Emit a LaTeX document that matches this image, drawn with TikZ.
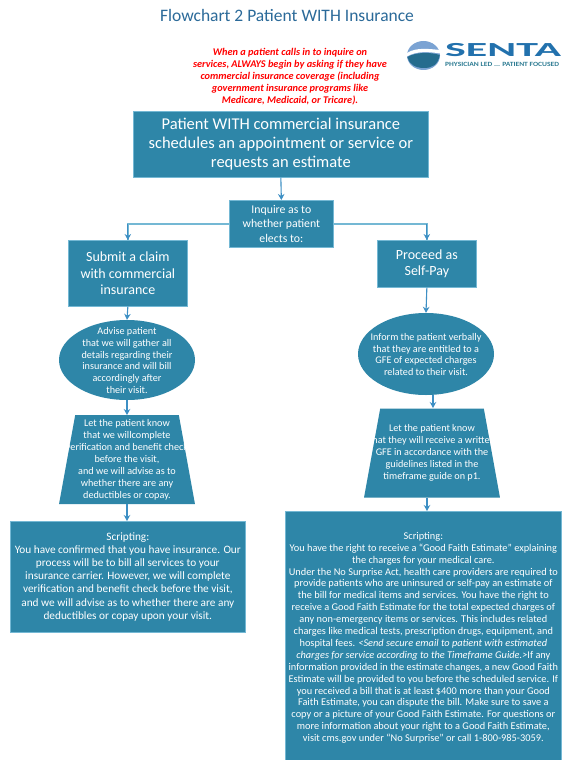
\documentclass[tikz,border=0pt]{standalone}
\usepackage{fontspec}
\setmainfont{Carlito}
\usetikzlibrary{arrows.meta,shapes.geometric}
\definecolor{teal1}{HTML}{2E86A8}
\definecolor{edge1}{HTML}{74B8D4}
\definecolor{arrow1}{HTML}{3D8FC4}
\definecolor{titleblue}{HTML}{2B6A99}
\definecolor{sentablue}{HTML}{2271AD}
\definecolor{sentateal}{HTML}{2E7C93}
\definecolor{globe}{HTML}{7BA3D3}
\definecolor{globedark}{HTML}{256C8E}
\tikzset{
  x=1pt,y=-1pt,
  flowbox/.style={fill=teal1,draw=edge1,line width=.7pt,align=center,text=white,inner sep=0pt,anchor=north west},
  flowoval/.style={ellipse,fill=teal1,draw=none,inner sep=0pt},
  flowtrap/.style={trapezium,trapezium stretches=true,fill=teal1,draw=none,inner sep=1pt,minimum height=89pt,minimum width=136pt,trapezium left angle=81.7,trapezium right angle=81.7},
  smalltext/.style={text=white,align=center,inner sep=0pt,font=\fontsize{10.2}{11.95}\selectfont},
  flowarrow/.style={draw=arrow1,line width=1.1pt,-{Stealth[length=6pt,width=6.5pt]}},
  branch/.style={draw=edge1,line width=1.4pt},
}
\begin{document}
\begin{tikzpicture}
\useasboundingbox (0,0) rectangle (570,760);
\fill[white] (0,0) rectangle (570,760);

\node[text=titleblue,font=\fontsize{17.5}{20}\selectfont,inner sep=0pt] (title) at (287,15) {Flowchart 2 Patient WITH Insurance};
\node[text=red,align=center,inner sep=0pt,font=\fontsize{10.3}{12}\selectfont\itshape\bfseries] (note) at (290,76.5) {When a patient calls in to inquire on\\services, ALWAYS begin by asking if they have\\commercial insurance coverage (including\\government insurance programs like\\Medicare, Medicaid, or Tricare).};

% logo
\fill[globe] (423.5,55.5) ellipse (16.5 and 14.5);
\fill[globedark] (407.3,57) .. controls (416,52) and (430,52) .. (439.8,55) .. controls (438,65) and (432,68) .. (424,68) .. controls (415,68) and (409,64) .. (407.3,57) -- cycle;
\fill[white] (407,53) .. controls (416,47) and (430,49) .. (440,50) -- (440,53.5) .. controls (428,51.5) and (416,51) .. (407,56.5) -- cycle;
\node[inner sep=0pt,text=sentablue,font=\fontsize{21}{21}\selectfont\bfseries,anchor=west] (senta) at (445,50) {\scalebox{2.09}[.95]{SENTA}};
\node[inner sep=0pt,text=sentateal,font=\fontsize{6.4}{7}\selectfont\bfseries,anchor=west] (tag) at (445,64) {\scalebox{1.18}[1]{PHYSICIAN LED ... PATIENT FOCUSED}};

% boxes
\node[flowbox,minimum width=295pt,minimum height=66pt,font=\fontsize{16.5}{19}\selectfont] (main) at (133,111) {Patient WITH commercial insurance\\schedules an appointment or service or\\requests an estimate};
\node[flowbox,minimum width=104pt,minimum height=47pt,font=\fontsize{11.8}{14.3}\selectfont] (inq) at (229,200) {Inquire as to\\whether patient\\elects to:};
\node[flowbox,minimum width=119pt,minimum height=66pt,font=\fontsize{14}{16.6}\selectfont] (claim) at (68,240) {Submit a claim\\with commercial\\insurance};
\node[flowbox,minimum width=99pt,minimum height=47pt,font=\fontsize{14}{16.2}\selectfont] (self) at (377,240) {Proceed as\\Self-Pay};

\node[flowoval,minimum width=136pt,minimum height=80pt] (ovalL) at (127,360) {};
\node[smalltext] (ovalLt) at (127,360.5) {Advise patient\\that we will gather all\\details regarding their\\insurance and will bill\\accordingly after\\their visit.};
\node[flowoval,minimum width=136pt,minimum height=82pt] (ovalR) at (426,354) {};
\node[smalltext] (ovalRt) at (426,354.5) {Inform the patient verbally\\that they are entitled to a\\GFE of expected charges\\related to their visit.};

\node[flowtrap] (trapL) at (127,459.5) {\phantom{x}};
\node[smalltext] (trapLt) at (127,460) {Let the patient know\\that we willcomplete\\verification and benefit check\\before the visit,\\and we will advise as to\\whether there are any\\deductibles or copay.};
\node[flowtrap] (trapR) at (432,453) {\phantom{x}};
\node[smalltext] (trapRt) at (432,453) {Let the patient know\\that they will receive a written\\GFE in accordance with the\\guidelines listed in the\\timeframe guide on p1.};

\node[flowbox,minimum width=235pt,minimum height=111pt,font=\fontsize{11.3}{13.1}\selectfont] (scrL) at (10,521) {Scripting:\\You have confirmed that you have insurance. Our\\process will be to bill all services to your\\insurance carrier. However, we will complete\\verification and benefit check before the visit,\\and we will advise as to whether there are any\\deductibles or copay upon your visit.};
\node[flowbox,minimum width=276pt,minimum height=249pt,font=\fontsize{10.35}{11.9}\selectfont] (scrR) at (285,511) {\rule{0pt}{11pt}Scripting:\\You have the right to receive a “Good Faith Estimate” explaining\\the charges for your medical care.\\Under the No Surprise Act, health care providers are required to\\provide patients who are uninsured or self-pay an estimate of\\the bill for medical items and services. You have the right to\\receive a Good Faith Estimate for the total expected charges of\\any non-emergency items or services. This includes related\\charges like medical tests, prescription drugs, equipment, and\\hospital fees. \textit{<Send secure email to patient with estimated}\\\textit{charges for service according to the Timeframe Guide.>}If any\\information provided in the estimate changes, a new Good Faith\\Estimate will be provided to you before the scheduled service. If\\you received a bill that is at least \$400 more than your Good\\Faith Estimate, you can dispute the bill. Make sure to save a\\copy or a picture of your Good Faith Estimate. For questions or\\more information about your right to a Good Faith Estimate,\\visit cms.gov under “No Surprise” or call 1-800-985-3059.};

% anchors for connectors that run off-centre
\coordinate (a1) at (433,395);
\coordinate (a2) at (433,408);
\coordinate (a3) at (427,498);
\coordinate (a4) at (427,511);
\coordinate (a5) at (127,504);
\coordinate (a6) at (127,521);
\coordinate (a7) at (127,400);
\coordinate (a8) at (127,415);

% connectors
\draw[flowarrow] (main.south) -- (inq.north);
\draw[branch] (inq.west) -| (claim.north);
\draw[branch] (inq.east) -| (self.north);
\draw[flowarrow] (claim.north |- inq.west) -- (claim.north);
\draw[flowarrow] (self.north |- inq.east) -- (self.north);
\draw[flowarrow] (claim.south) -- (ovalL.north);
\draw[flowarrow] (a7) -- (a8);
\draw[flowarrow] (a5) -- (a6);
\draw[flowarrow] (self.south) -- (ovalR.north);
\draw[flowarrow] (a1) -- (a2);
\draw[flowarrow] (a3) -- (a4);
\end{tikzpicture}
\end{document}
